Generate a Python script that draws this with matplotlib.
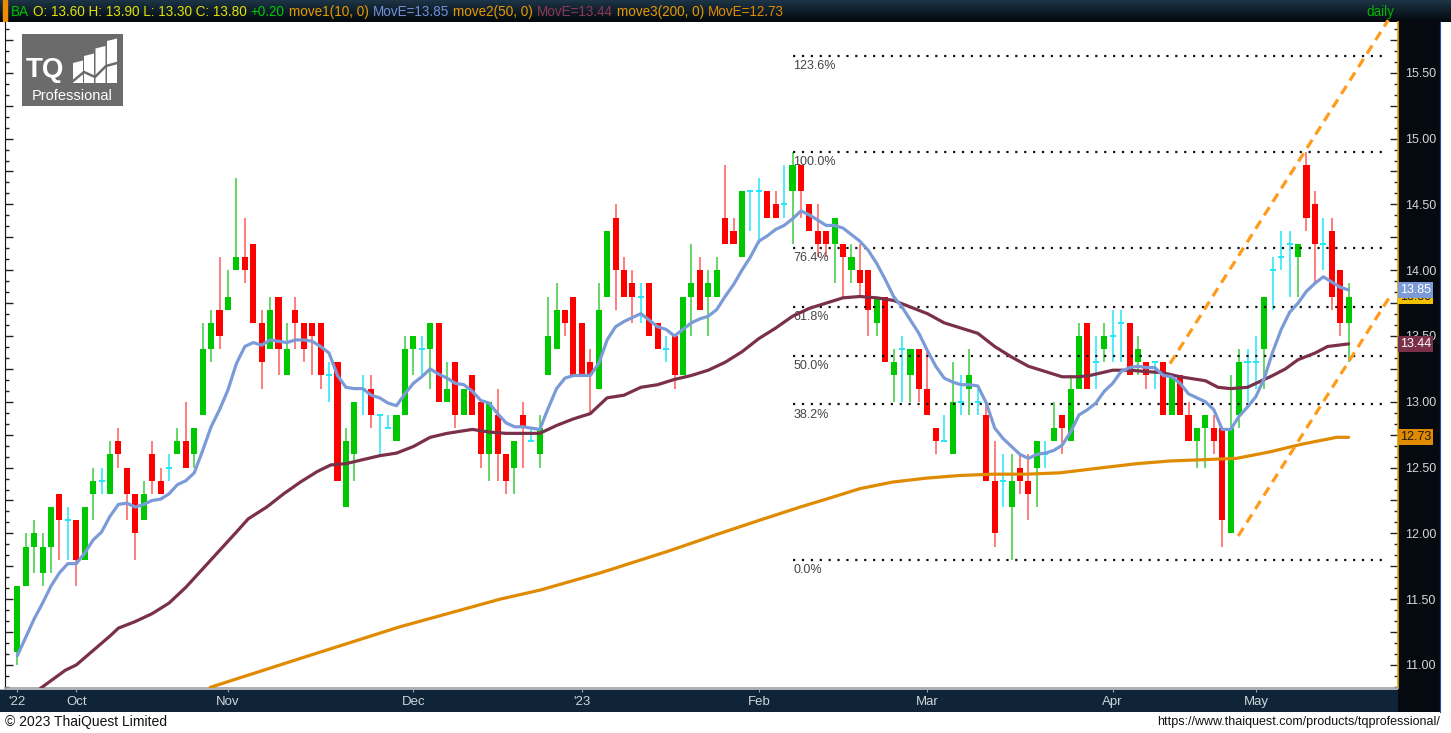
import matplotlib
matplotlib.use("Agg")
import matplotlib.pyplot as plt
import matplotlib.transforms as mtransforms
from matplotlib.ticker import MultipleLocator, FixedLocator, FuncFormatter
from matplotlib.patches import Rectangle, Polygon
from matplotlib.colors import LinearSegmentedColormap
import numpy as np

W, H = 1451, 733

# daily OHLC, late Sep 2022 .. mid May 2023
opens = [11.1, 11.6, 11.9, 11.7, 11.9, 12.3, 12.1, 12.1, 11.8, 12.3,
         12.4, 12.3, 12.7, 12.5, 12.3, 12.1, 12.6, 12.4, 12.5, 12.6,
         12.7, 12.6, 12.9, 13.4, 13.7, 13.7, 14.0, 14.1, 14.2, 13.6,
         13.4, 13.8, 13.2, 13.7, 13.6, 13.6, 13.6, 13.2, 13.3, 12.2,
         12.6, 13.1, 13.1, 12.9, 12.8, 12.7, 12.9, 13.4, 13.4, 13.4,
         13.6, 13.0, 13.3, 12.9, 13.2, 13.0, 12.6, 12.9, 12.6, 12.5,
         12.9, 12.7, 12.6, 13.2, 13.4, 13.7, 13.8, 13.6, 13.3, 13.1,
         13.8, 14.4, 14.0, 13.9, 13.8, 13.9, 13.6, 13.4, 13.5, 13.2,
         13.8, 14.0, 13.8, 13.8, 14.4, 14.3, 14.1, 14.6, 14.6, 14.6,
         14.5, 14.5, 14.6, 14.8, 14.5, 14.3, 14.3, 14.2, 14.2, 14.0,
         14.0, 14.0, 13.6, 13.8, 13.2, 13.4, 13.2, 13.4, 13.1, 12.8,
         12.7, 12.6, 13.0, 13.1, 13.0, 12.9, 12.4, 12.4, 12.2, 12.5,
         12.4, 12.5, 12.6, 12.7, 12.9, 12.7, 13.1, 13.6, 13.3, 13.4,
         13.5, 13.6, 13.6, 13.3, 13.3, 13.3, 13.3, 12.9, 13.2, 12.9,
         12.7, 12.8, 12.8, 12.8, 12.0, 12.9, 13.3, 13.3, 13.4, 14.0,
         14.1, 14.2, 14.1, 14.8, 14.5, 14.2, 14.3, 14.0, 13.6]
highs = [11.6, 12.0, 12.1, 12.0, 12.2, 12.3, 12.2, 12.1, 12.2, 12.5,
         12.5, 12.7, 12.8, 12.5, 12.3, 12.4, 12.7, 12.5, 12.6, 12.8,
         13.0, 12.8, 13.6, 13.7, 14.1, 14.0, 14.7, 14.4, 14.2, 13.7,
         13.8, 13.8, 13.6, 13.8, 13.6, 13.6, 13.6, 13.3, 13.3, 12.8,
         13.0, 13.2, 13.2, 12.9, 12.9, 12.9, 13.5, 13.5, 13.5, 13.6,
         13.6, 13.3, 13.3, 13.1, 13.2, 13.0, 13.0, 13.1, 12.6, 12.7,
         13.0, 12.8, 12.9, 13.8, 13.9, 13.7, 13.8, 13.6, 13.4, 13.9,
         14.3, 14.5, 14.1, 14.0, 13.9, 13.9, 13.6, 13.5, 13.5, 13.8,
         14.2, 14.1, 14.0, 14.1, 14.8, 14.4, 14.6, 14.6, 14.7, 14.6,
         14.6, 14.8, 14.9, 14.8, 14.5, 14.5, 14.3, 14.4, 14.2, 14.2,
         14.2, 14.0, 13.8, 13.8, 13.4, 13.5, 13.4, 13.4, 13.4, 12.8,
         12.9, 13.3, 13.2, 13.4, 13.1, 13.0, 12.7, 12.6, 12.6, 12.6,
         12.6, 12.7, 12.7, 13.0, 12.9, 13.2, 13.6, 13.6, 13.5, 13.6,
         13.7, 13.7, 13.6, 13.5, 13.3, 13.3, 13.3, 13.2, 13.2, 13.0,
         12.8, 12.9, 12.9, 12.8, 13.2, 13.4, 13.4, 13.5, 13.8, 14.1,
         14.3, 14.3, 14.2, 14.9, 14.6, 14.4, 14.4, 14.0, 13.9]
lows = [11.0, 11.6, 11.7, 11.6, 11.7, 11.8, 11.8, 11.6, 11.8, 12.1,
        12.3, 12.3, 12.5, 12.1, 11.8, 12.1, 12.3, 12.3, 12.4, 12.6,
        12.5, 12.5, 12.9, 13.3, 13.4, 13.7, 14.0, 13.9, 13.6, 13.1,
        13.4, 13.2, 13.2, 13.4, 13.3, 13.2, 13.1, 13.0, 12.4, 12.2,
        12.4, 12.9, 12.8, 12.6, 12.8, 12.7, 12.9, 13.2, 13.2, 13.1,
        13.0, 13.0, 12.8, 12.9, 12.9, 12.5, 12.4, 12.4, 12.3, 12.3,
        12.5, 12.7, 12.5, 13.2, 13.4, 13.5, 13.2, 13.2, 12.9, 13.1,
        13.8, 13.7, 13.8, 13.6, 13.6, 13.5, 13.4, 13.3, 13.1, 13.2,
        13.5, 13.7, 13.5, 13.8, 14.2, 14.2, 14.1, 14.3, 14.2, 14.4,
        14.4, 14.4, 14.2, 14.4, 14.3, 14.1, 14.1, 13.9, 13.8, 13.9,
        13.8, 13.5, 13.5, 13.3, 13.0, 13.0, 13.0, 13.0, 12.9, 12.6,
        12.7, 12.6, 12.9, 12.9, 12.9, 12.4, 11.9, 12.2, 11.8, 12.3,
        12.1, 12.2, 12.5, 12.7, 12.6, 12.7, 13.1, 13.1, 13.1, 13.3,
        13.3, 13.3, 13.2, 13.2, 13.1, 13.1, 12.9, 12.9, 12.9, 12.7,
        12.5, 12.5, 12.6, 11.9, 12.0, 12.8, 13.0, 13.1, 13.1, 13.7,
        14.0, 13.8, 13.8, 14.3, 13.9, 14.0, 13.7, 13.5, 13.3]
closes = [11.6, 11.9, 12.0, 11.9, 12.2, 12.1, 12.1, 11.8, 12.2, 12.4,
          12.4, 12.6, 12.6, 12.3, 12.0, 12.3, 12.4, 12.3, 12.5, 12.7,
          12.5, 12.8, 13.4, 13.6, 13.5, 13.8, 14.1, 14.0, 13.6, 13.3,
          13.7, 13.4, 13.4, 13.6, 13.4, 13.5, 13.2, 13.2, 12.4, 12.7,
          13.0, 13.1, 12.9, 12.9, 12.8, 12.9, 13.4, 13.5, 13.4, 13.6,
          13.0, 13.1, 12.9, 13.1, 12.9, 12.6, 13.0, 12.6, 12.4, 12.7,
          12.8, 12.7, 12.8, 13.5, 13.7, 13.6, 13.2, 13.2, 13.2, 13.7,
          14.3, 14.0, 13.8, 13.8, 13.8, 13.5, 13.4, 13.4, 13.2, 13.8,
          13.9, 13.7, 13.9, 14.0, 14.2, 14.2, 14.6, 14.6, 14.6, 14.4,
          14.4, 14.5, 14.8, 14.6, 14.3, 14.2, 14.2, 14.4, 14.1, 14.1,
          13.9, 13.7, 13.8, 13.3, 13.3, 13.4, 13.4, 13.1, 12.9, 12.7,
          12.7, 13.0, 13.0, 13.2, 13.0, 12.4, 12.0, 12.4, 12.4, 12.4,
          12.3, 12.7, 12.6, 12.8, 12.8, 13.1, 13.5, 13.1, 13.3, 13.5,
          13.5, 13.6, 13.2, 13.4, 13.2, 13.3, 12.9, 13.2, 12.9, 12.7,
          12.8, 12.9, 12.7, 12.1, 12.8, 13.3, 13.3, 13.3, 13.8, 14.0,
          14.1, 14.2, 14.2, 14.4, 14.2, 14.2, 13.8, 13.6, 13.8]

# moving averages
ma10 = [11.07, 11.21, 11.35, 11.47, 11.60, 11.70, 11.77, 11.77, 11.85, 11.95,
        12.01, 12.13, 12.22, 12.23, 12.20, 12.22, 12.25, 12.26, 12.30, 12.37,
        12.40, 12.46, 12.63, 12.81, 12.94, 13.09, 13.29, 13.42, 13.45, 13.43,
        13.47, 13.46, 13.45, 13.47, 13.47, 13.46, 13.42, 13.37, 13.20, 13.11,
        13.10, 13.10, 13.05, 13.03, 12.99, 12.97, 13.06, 13.14, 13.19, 13.25,
        13.21, 13.18, 13.14, 13.13, 13.08, 13.01, 12.99, 12.91, 12.84, 12.81,
        12.81, 12.80, 12.79, 12.95, 13.10, 13.18, 13.20, 13.20, 13.20, 13.29,
        13.47, 13.57, 13.61, 13.64, 13.67, 13.62, 13.57, 13.55, 13.50, 13.55,
        13.60, 13.63, 13.65, 13.70, 13.80, 13.89, 14.00, 14.10, 14.22, 14.26,
        14.31, 14.34, 14.39, 14.45, 14.42, 14.38, 14.34, 14.34, 14.32, 14.27,
        14.22, 14.15, 14.05, 13.93, 13.80, 13.72, 13.62, 13.52, 13.39, 13.27,
        13.18, 13.15, 13.13, 13.13, 13.12, 12.99, 12.80, 12.72, 12.66, 12.60,
        12.57, 12.60, 12.61, 12.63, 12.67, 12.77, 12.90, 12.94, 12.99, 13.08,
        13.14, 13.23, 13.26, 13.27, 13.26, 13.26, 13.20, 13.19, 13.14, 13.06,
        13.03, 13.00, 12.94, 12.79, 12.79, 12.89, 12.96, 13.04, 13.18, 13.38,
        13.55, 13.68, 13.75, 13.84, 13.90, 13.95, 13.91, 13.87, 13.85]
ma50_at = [2.7, 4.2, 5.7, 7, 9, 11, 12, 14, 16, 18, 20, 22, 24, 26, 27.4, 29.6,
           31.6, 33.6, 35.6, 37.2, 39, 41, 43, 45, 47, 49, 51, 53, 54, 56, 58,
           60, 62, 64, 66, 68, 70, 72, 74, 76, 78, 80, 82, 84, 86, 88, 90, 92,
           94, 96, 98, 100, 102, 104, 106, 108, 110, 112, 114, 116, 118, 120,
           122, 124, 126, 127.3, 130, 132, 134, 136, 138, 140, 141, 142.5, 144,
           146, 147, 149, 150.5, 152, 154, 155.5, 158]
ma50 = [10.82, 10.89, 10.96, 11.00, 11.11, 11.22, 11.28, 11.33, 11.39, 11.47,
        11.59, 11.73, 11.87, 12.01, 12.11, 12.20, 12.30, 12.39, 12.47, 12.52,
        12.53, 12.56, 12.59, 12.61, 12.66, 12.73, 12.76, 12.78, 12.79, 12.77,
        12.76, 12.76, 12.76, 12.82, 12.87, 12.91, 13.03, 13.05, 13.11, 13.13,
        13.17, 13.20, 13.24, 13.30, 13.38, 13.48, 13.56, 13.65, 13.71, 13.75,
        13.79, 13.80, 13.79, 13.77, 13.72, 13.67, 13.60, 13.56, 13.52, 13.42,
        13.34, 13.27, 13.23, 13.19, 13.19, 13.20, 13.24, 13.24, 13.23, 13.22,
        13.19, 13.17, 13.16, 13.11, 13.10, 13.11, 13.14, 13.20, 13.25, 13.32,
        13.37, 13.42, 13.44]
ma200_at = [22.9, 33.6, 45.4, 57.3, 62.1, 69.2, 77.5, 83.4, 88.1, 92.9, 96.5,
            100, 103.9, 107.9, 111.9, 115.8, 119.8, 123.7, 128.9, 132.9, 136.8,
            140.7, 144.7, 148.7, 152.6, 156.6, 158]
ma200 = [10.83, 11.05, 11.29, 11.50, 11.57, 11.70, 11.87, 12.00, 12.10, 12.20,
         12.27, 12.34, 12.39, 12.42, 12.44, 12.45, 12.45, 12.46, 12.50, 12.53,
         12.55, 12.56, 12.57, 12.62, 12.68, 12.73, 12.73]

month_at = [0, 7, 25, 47, 67, 88, 108, 130, 147]
month_labels = ["'22", "Oct", "Nov", "Dec", "'23", "Feb", "Mar", "Apr", "May"]

fib_levels = [11.80, 12.98, 13.35, 13.72, 14.17, 14.90, 15.63]
fib_labels = ["0.0%", "38.2%", "50.0%", "61.8%", "76.4%", "100.0%", "123.6%"]
fib_from, fib_to = 92, 162.5

chan_upper = ([136.8, 162.7], [13.29, 15.90])
chan_lower = ([144.9, 162.9], [11.98, 13.80])

last_vals = [("13.80", 13.80, "#f2c200", "#1a1a1a"),
             ("13.85", 13.85, "#7b9bd8", "#ffffff"),
             ("13.44", 13.44, "#7a3049", "#ffffff"),
             ("12.73", 12.73, "#e08a00", "#1a1a1a")]

hdr_parts = [("BA", "#00c000"), ("O: 13.60 H: 13.90 L: 13.30 C: 13.80", "#e2e200"),
             ("+0.20", "#00c800"), ("move1(10, 0)", "#e89800"),
             ("MovE=13.85", "#6f90d8"), ("move2(50, 0)", "#e89800"),
             ("MovE=13.44", "#8a3a56"), ("move3(200, 0)", "#e89800"),
             ("MovE=12.73", "#e08a00")]

SANS = ["Liberation Sans", "DejaVu Sans"]


def box(x0, y0, x1, y1):
    return [x0 / W, 1 - y1 / H, (x1 - x0) / W, (y1 - y0) / H]


fig = plt.figure(figsize=(W / 100, H / 100), dpi=100)
fig.patch.set_facecolor("white")

# header strip
hdr = fig.add_axes(box(0, 0, W, 22))
grad = np.linspace(0, 1, 50).reshape(-1, 1)
hcm = LinearSegmentedColormap.from_list("h", ["#1d3547", "#02070b"])
hdr.imshow(grad, aspect="auto", cmap=hcm, extent=[0, 1, 0, 1], origin="upper")
hdr.add_patch(Rectangle((0.002, 0.0), 0.0025, 1.0, color="#f08a00"))
hdr.set_axis_off()

# right price panel and bottom date band
rp = fig.add_axes(box(1398, 22, 1440, 712))
rp.set_facecolor("#050a11")
rp.set_xticks([]); rp.set_yticks([])
for s in rp.spines.values():
    s.set_visible(False)
rp.spines["right"].set_visible(True)
rp.spines["right"].set_color("#2a49a8")

band = fig.add_axes(box(0, 689, 1398, 712))
band.set_facecolor("#0f2436")
band.set_xticks([]); band.set_yticks([])
for s in band.spines.values():
    s.set_visible(False)
band.axhline(1.0, color="#c9ccd0", lw=1.2)

ax = fig.add_axes(box(5, 22, 1398, 688))
ax.set_facecolor("white")
ax.set_xlim(-1.46, 163.86)
ax.set_ylim(10.825, 15.886)

o = np.array(opens); hi = np.array(highs); lo = np.array(lows); c = np.array(closes)
x = np.arange(len(c))
up = c > o
dn = c < o
eq = c == o

ax.vlines(x[up], lo[up], hi[up], color="#3ccc3c", lw=1.1, zorder=2)
ax.bar(x[up], c[up] - o[up], bottom=o[up], width=0.72, color="#00c800", lw=0, zorder=3)
ax.vlines(x[dn], lo[dn], hi[dn], color="#ff5a5a", lw=1.1, zorder=2)
ax.bar(x[dn], o[dn] - c[dn], bottom=c[dn], width=0.72, color="#ff0000", lw=0, zorder=3)
ax.vlines(x[eq], lo[eq], hi[eq], color="#22e6f8", lw=1.1, zorder=3)
ax.hlines(c[eq], x[eq] - 0.36, x[eq] + 0.36, color="#22e6f8", lw=1.4, zorder=3)

# fibonacci retracement
for lvl, lab in zip(fib_levels, fib_labels):
    ax.hlines(lvl, fib_from, fib_to, colors="#111111", linestyles=(0, (1, 3)), lw=1.6, zorder=4)
    ax.annotate(lab, (fib_from, lvl), xytext=(0.5, -7.5), textcoords="offset points",
                ha="left", va="center", fontsize=9, color="#444444", family=SANS, zorder=4)

# moving averages
ax.plot(ma200_at, ma200, color="#e08a00", lw=2.3, zorder=5, solid_capstyle="round")
ax.plot(ma50_at, ma50, color="#7a3049", lw=2.3, zorder=5, solid_capstyle="round")
ax.plot(x, ma10, color="#7b9bd8", lw=2.3, zorder=6, solid_capstyle="round")

# trend channel
for cx, cy in (chan_upper, chan_lower):
    ax.plot(cx, cy, color="#ff9a1a", lw=2.3, ls=(0, (3, 2)), zorder=6, clip_on=False)

# axes styling
ax.spines["top"].set_visible(False)
ax.spines["left"].set_color("#111111")
ax.spines["right"].set_color("#e0a800")
ax.spines["right"].set_linewidth(1.2)
ax.spines["bottom"].set_color("#9ea3a8")
ax.spines["bottom"].set_linewidth(1.2)

ax.yaxis.set_major_locator(MultipleLocator(0.25))
ax.yaxis.set_minor_locator(MultipleLocator(0.25 / 3))
ax.yaxis.set_major_formatter(FuncFormatter(
    lambda v, p: f"{v:.2f}" if abs(v * 2 - round(v * 2)) < 1e-6 else ""))
ax.tick_params(axis="y", which="both", direction="in", left=True, right=True,
               labelleft=False, labelright=True, color="#222222", width=1)
ax.tick_params(axis="y", which="major", length=6, pad=5, labelsize=9,
               labelcolor="#d6d6d6")
ax.tick_params(axis="y", which="minor", length=3)
for t in ax.get_yticklabels():
    t.set_family(SANS)

ax.xaxis.set_major_locator(FixedLocator(month_at))
ax.set_xticklabels(month_labels)
ax.tick_params(axis="x", direction="out", length=3, color="#9aa6b2", pad=2.5,
               labelsize=9.5, labelcolor="#cfd5dc")
for t in ax.get_xticklabels():
    t.set_family(SANS)

# last value markers on the price axis
yblend = mtransforms.blended_transform_factory(ax.transAxes, ax.transData)
for txt, val, bg, fg in last_vals:
    ax.annotate(txt, (1.0, val), xycoords=yblend, xytext=(1.5, 0), textcoords="offset points",
                ha="left", va="center", fontsize=9, color=fg, family=SANS, zorder=10,
                annotation_clip=False,
                bbox=dict(boxstyle="square,pad=0.15", fc=bg, ec="none"))

# header readout: one font size, laid out left to right so it ends near x=790
renderer = fig.canvas.get_renderer()
gap = 4.0
base = 10.5
hdr_texts = [fig.text(0, 1 - 12 / H, txt, color=col, fontsize=base, family=SANS,
                      ha="left", va="center") for txt, col in hdr_parts]
total = sum(t.get_window_extent(renderer).width for t in hdr_texts)
avail = 790 - 11 - gap * (len(hdr_texts) - 1)
size = min(base, base * avail / total)
cur = 11.0
for t in hdr_texts:
    t.set_fontsize(size)
    t.set_x(cur / W)
    cur += t.get_window_extent(renderer).width + gap
fig.text(1366 / W, 1 - 12 / H, "daily", color="#00b400", fontsize=size, family=SANS,
         ha="left", va="center")

# logo
lg = fig.add_axes(box(22, 34, 123, 106))
lg.set_xlim(22, 123); lg.set_ylim(106, 34)
lg.set_facecolor("#6b6b6b")
lg.set_xticks([]); lg.set_yticks([])
for s in lg.spines.values():
    s.set_visible(False)
lg.text(26, 70, "TQ", color="white", fontsize=20, fontweight="bold", family=SANS,
        ha="left", va="center")
for bx, top in ((73, 63), (84, 56), (95.5, 48.5), (107, 41)):
    lg.add_patch(Polygon([[bx, 83], [bx, top], [bx + 10, top - 2.5], [bx + 10, 83]],
                         closed=True, color="white", lw=0))
lg.plot([73, 84, 95, 106, 117], [81, 72, 77, 66, 63], color="#6b6b6b", lw=1.8)
lg.text(72.5, 96, "Professional", color="white", fontsize=10.5, family=SANS,
        ha="center", va="center")

# footer
fig.text(5 / W, 1 - 722 / H, "\u00a9 2023 ThaiQuest Limited", fontsize=10, family=SANS,
         color="#111111", ha="left", va="center")
fig.text(1440 / W, 1 - 722 / H, "https://www.thaiquest.com/products/tqprofessional/",
         fontsize=9, family=SANS, color="#111111", ha="right", va="center")

fig.savefig("out.png", dpi=100)
